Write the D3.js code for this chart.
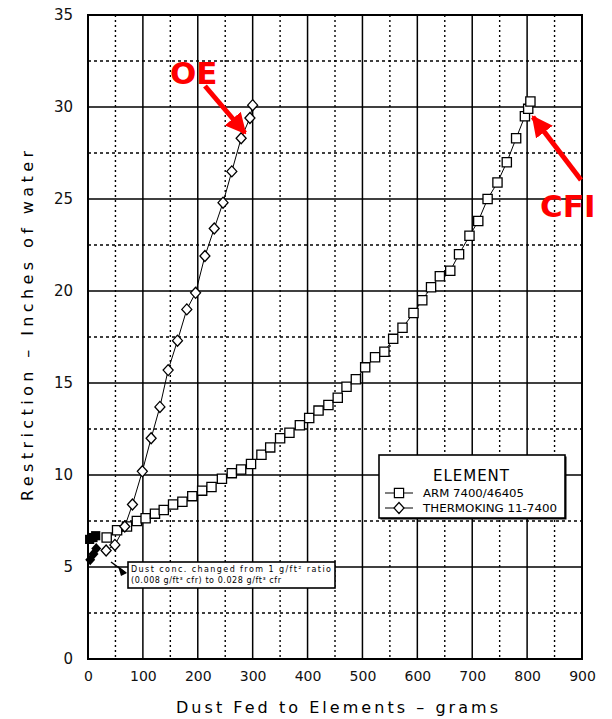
<!DOCTYPE html>
<html>
<head>
<meta charset="utf-8">
<script src="https://cdn.jsdelivr.net/npm/d3@7"></script>
<style>
  body { margin: 0; background: #fff; }
  text { font-family: 'DejaVu Sans', sans-serif; }
</style>
</head>
<body>
<div id="chart"></div>
<script>
'use strict'

// grams of dust fed, restriction in inches of water
const ARM_X = [34, 53, 71, 89, 105, 122, 138, 155, 172, 190, 208, 225, 244, 262, 279, 297, 316,
  332, 350, 367, 386, 403, 420, 438, 455, 471, 488, 505, 523, 540, 556, 573, 593, 609, 625,
  641, 660, 676, 695, 711, 728, 746, 763, 780, 796, 802, 806]
const ARM_Y = [6.6, 7.0, 7.2, 7.5, 7.65, 7.9, 8.1, 8.4, 8.55, 8.85, 9.15, 9.35, 9.8, 10.1, 10.3, 10.6, 11.1,
  11.5, 12.0, 12.3, 12.7, 13.1, 13.5, 13.8, 14.2, 14.8, 15.2, 15.85, 16.4, 16.7, 17.4, 18.0, 18.8, 19.5, 20.2,
  20.8, 21.1, 22.0, 23.0, 23.8, 25.0, 25.9, 27.0, 28.3, 29.5, 29.9, 30.3]

const THERMO_X = [33, 49, 67, 81, 99, 115, 131, 146, 163, 180, 196, 213, 230, 246, 262, 279, 295, 300]
const THERMO_Y = [5.9, 6.2, 7.2, 8.4, 10.2, 12.0, 13.7, 15.7, 17.3, 19.0, 19.9, 21.9, 23.4, 24.8, 26.5, 28.3, 29.4, 30.1]

// blotted starting points before the dust concentration change
const START_SQUARES = [[3, 6.5], [9, 6.6], [14, 6.7]]
const START_DIAMONDS = [[4, 5.4], [10, 5.7], [15, 6.0]]

const X_TICKS = [0, 100, 200, 300, 400, 500, 600, 700, 800, 900]
const Y_TICKS = [0, 5, 10, 15, 20, 25, 30, 35]
const X_MINOR = [50, 150, 250, 350, 450, 550, 650, 750, 850]
const Y_MINOR = [2.5, 7.5, 12.5, 17.5, 22.5, 27.5, 32.5]

const LEGEND_TITLE = 'ELEMENT'
const SERIES_NAMES = ['ARM 7400/46405', 'THERMOKING 11-7400']
const NOTE_LINES = ['Dust conc. changed from 1 g/ft\u00b2 ratio', '(0.008 g/ft\u00b3 cfr) to 0.028 g/ft\u00b3 cfr']

const WIDTH = 612
const HEIGHT = 719
const PLOT = { left: 88, right: 582, top: 15, bottom: 659 }

const svg = d3.select('#chart').append('svg')
  .attr('width', WIDTH)
  .attr('height', HEIGHT)

const defs = svg.append('defs')
defs.append('marker')
  .attr('id', 'red-head')
  .attr('viewBox', '0 0 10 10')
  .attr('refX', 9)
  .attr('refY', 5)
  .attr('markerWidth', 4.2)
  .attr('markerHeight', 4.2)
  .attr('markerUnits', 'strokeWidth')
  .attr('orient', 'auto')
  .append('path')
  .attr('d', 'M0,0 L10,5 L0,10 Z')
  .attr('fill', '#ff0000')

const x = d3.scaleLinear().domain([0, 900]).range([PLOT.left, PLOT.right])
const y = d3.scaleLinear().domain([0, 35]).range([PLOT.bottom, PLOT.top])

// minor dotted grid
const grid = svg.append('g')
grid.selectAll('.vmin').data(X_MINOR).enter().append('line')
  .attr('x1', d => x(d)).attr('x2', d => x(d))
  .attr('y1', PLOT.top).attr('y2', PLOT.bottom)
  .attr('stroke', '#000').attr('stroke-width', 1.4).attr('stroke-dasharray', '2,3')
grid.selectAll('.hmin').data(Y_MINOR).enter().append('line')
  .attr('x1', PLOT.left).attr('x2', PLOT.right)
  .attr('y1', d => y(d)).attr('y2', d => y(d))
  .attr('stroke', '#000').attr('stroke-width', 1.4).attr('stroke-dasharray', '3,3')

// major solid grid
grid.selectAll('.vmaj').data(X_TICKS).enter().append('line')
  .attr('x1', d => x(d)).attr('x2', d => x(d))
  .attr('y1', PLOT.top).attr('y2', PLOT.bottom)
  .attr('stroke', '#000').attr('stroke-width', 1.5)
grid.selectAll('.hmaj').data(Y_TICKS).enter().append('line')
  .attr('x1', PLOT.left).attr('x2', PLOT.right)
  .attr('y1', d => y(d)).attr('y2', d => y(d))
  .attr('stroke', '#000').attr('stroke-width', 1.5)

svg.append('rect')
  .attr('x', PLOT.left).attr('y', PLOT.top)
  .attr('width', PLOT.right - PLOT.left).attr('height', PLOT.bottom - PLOT.top)
  .attr('fill', 'none').attr('stroke', '#000').attr('stroke-width', 2)

// axes labels
const xAxis = svg.append('g')
  .attr('transform', 'translate(0,' + PLOT.bottom + ')')
  .call(d3.axisBottom(x).tickValues(X_TICKS).tickSize(0).tickPadding(12).tickFormat(d3.format('d')))
xAxis.select('.domain').remove()
xAxis.selectAll('text').attr('font-size', 14).attr('font-family', 'DejaVu Sans').attr('fill', '#111')

const yAxis = svg.append('g')
  .attr('transform', 'translate(' + (PLOT.left - 15) + ',0)')
  .call(d3.axisLeft(y).tickValues(Y_TICKS).tickSize(0).tickPadding(0).tickFormat(d3.format('d')))
yAxis.select('.domain').remove()
yAxis.selectAll('text').attr('font-size', 15).attr('font-family', 'DejaVu Sans').attr('fill', '#111')

svg.append('text')
  .attr('x', 337).attr('y', 713)
  .attr('text-anchor', 'middle')
  .attr('font-size', 16)
  .attr('textLength', 322).attr('lengthAdjust', 'spacing')
  .text('Dust Fed to Elements \u2013 grams')

svg.append('text')
  .attr('transform', 'translate(33,326) rotate(-90)')
  .attr('text-anchor', 'middle')
  .attr('font-size', 16)
  .attr('textLength', 350).attr('lengthAdjust', 'spacing')
  .text('Restriction \u2013 Inches of water')

// series
const line = d3.line().x(d => x(d[0])).y(d => y(d[1]))
const armData = ARM_X.map((d, i) => [d, ARM_Y[i]])
const thermoData = THERMO_X.map((d, i) => [d, THERMO_Y[i]])

svg.append('path').datum(armData)
  .attr('d', line).attr('fill', 'none').attr('stroke', '#000').attr('stroke-width', 1)
svg.append('path').datum(thermoData)
  .attr('d', line).attr('fill', 'none').attr('stroke', '#000').attr('stroke-width', 1)

const square = d3.symbol().type(d3.symbolSquare).size(85)
const diamond = d => 'M0,-5.5 L5,0 L0,5.5 L-5,0 Z'

svg.selectAll('.arm').data(armData).enter().append('path')
  .attr('transform', d => 'translate(' + x(d[0]) + ',' + y(d[1]) + ')')
  .attr('d', square)
  .attr('fill', '#fff').attr('stroke', '#000').attr('stroke-width', 1.3)

svg.selectAll('.thermo').data(thermoData).enter().append('path')
  .attr('transform', d => 'translate(' + x(d[0]) + ',' + y(d[1]) + ')')
  .attr('d', diamond)
  .attr('fill', '#fff').attr('stroke', '#000').attr('stroke-width', 1.3)

svg.selectAll('.startsq').data(START_SQUARES).enter().append('path')
  .attr('transform', d => 'translate(' + x(d[0]) + ',' + y(d[1]) + ')')
  .attr('d', square).attr('fill', '#000')
svg.selectAll('.startdi').data(START_DIAMONDS).enter().append('path')
  .attr('transform', d => 'translate(' + x(d[0]) + ',' + y(d[1]) + ')')
  .attr('d', diamond).attr('fill', '#000')

// note box
const note = svg.append('g').attr('transform', 'translate(128,562)')
note.append('rect')
  .attr('width', 207).attr('height', 26)
  .attr('fill', '#fff').attr('stroke', '#000').attr('stroke-width', 1.6)
note.selectAll('text').data(NOTE_LINES).enter().append('text')
  .attr('x', 3).attr('y', (d, i) => 10 + i * 11)
  .attr('font-size', 8)
  .attr('textLength', (d, i) => i === 0 ? 200 : 150).attr('lengthAdjust', 'spacing')
  .text(d => d)
svg.append('line')
  .attr('x1', 111).attr('y1', 562).attr('x2', 126).attr('y2', 573)
  .attr('stroke', '#000').attr('stroke-width', 1.5)
svg.append('path')
  .attr('d', 'M118,566 L127,573 L121,576 Z').attr('fill', '#000')

// legend
const legend = svg.append('g').attr('transform', 'translate(379,455)')
legend.append('rect')
  .attr('x', 1.5).attr('y', 1.5).attr('width', 186).attr('height', 63)
  .attr('fill', '#000')
legend.append('rect')
  .attr('width', 186).attr('height', 63)
  .attr('fill', '#fff').attr('stroke', '#000').attr('stroke-width', 1.6)
legend.append('text')
  .attr('x', 92).attr('y', 26)
  .attr('text-anchor', 'middle').attr('font-size', 15)
  .attr('textLength', 76).attr('lengthAdjust', 'spacing')
  .text(LEGEND_TITLE)
const items = legend.selectAll('.item').data(SERIES_NAMES).enter().append('g')
  .attr('transform', (d, i) => 'translate(0,' + (38 + i * 15) + ')')
items.append('line')
  .attr('x1', 6).attr('x2', 34).attr('stroke', '#000').attr('stroke-width', 1)
items.append('path')
  .attr('transform', 'translate(20,0)')
  .attr('d', (d, i) => i === 0 ? square() : diamond())
  .attr('fill', '#fff').attr('stroke', '#000').attr('stroke-width', 1.2)
items.append('text')
  .attr('x', 44).attr('y', 4)
  .attr('font-size', 10.5)
  .attr('textLength', (d, i) => i === 0 ? 101 : 134).attr('lengthAdjust', 'spacingAndGlyphs')
  .text(d => d)

// red callouts
svg.append('text')
  .attr('x', 170).attr('y', 84)
  .attr('font-family', 'Liberation Sans, Arial, sans-serif')
  .attr('font-weight', 'bold').attr('font-size', 31).attr('fill', '#ff0000')
  .text('OE')
svg.append('line')
  .attr('x1', 205).attr('y1', 86).attr('x2', 245).attr('y2', 133)
  .attr('stroke', '#ff0000').attr('stroke-width', 5)
  .attr('marker-end', 'url(#red-head)')

svg.append('text')
  .attr('x', 540).attr('y', 217)
  .attr('font-family', 'Liberation Sans, Arial, sans-serif')
  .attr('font-weight', 'bold').attr('font-size', 31).attr('fill', '#ff0000')
  .text('CFI')
svg.append('line')
  .attr('x1', 581).attr('y1', 180).attr('x2', 533).attr('y2', 117)
  .attr('stroke', '#ff0000').attr('stroke-width', 5)
  .attr('marker-end', 'url(#red-head)')
</script>
</body>
</html>
